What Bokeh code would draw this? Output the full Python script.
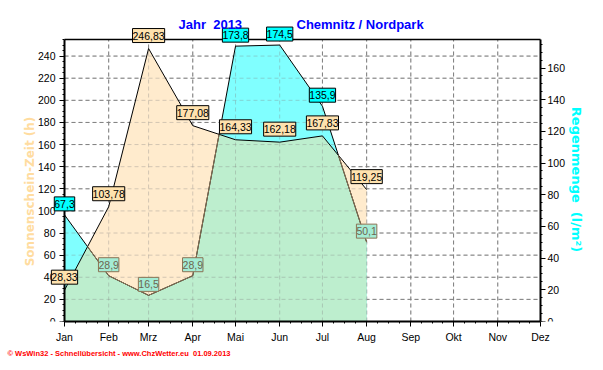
from datetime import date
import numpy as np
from bokeh.plotting import figure
from bokeh.models import Range1d, LinearAxis, FixedTicker, Label, Title
from bokeh.core.properties import value
from bokeh.embed import file_html
from bokeh.resources import INLINE

YEAR = 2013
months = ["Jan", "Feb", "Mrz", "Apr", "Mai", "Jun", "Jul", "Aug", "Sep", "Okt", "Nov", "Dez"]
sun = [28.33, 103.78, 246.83, 177.08, 164.33, 162.18, 167.83, 119.25]      # Sonnenschein-Zeit (h)
rain = [67.3, 28.9, 16.5, 28.9, 173.8, 174.5, 135.9, 50.1]                 # Regenmenge (l/m²)
left_ticks = list(range(0, 241, 20))
right_ticks = list(range(0, 161, 20))
LEFT_MAX = 255
RIGHT_MAX = 178

# x = day of year (first of each month)
month_x = [(date(YEAR, m, 1) - date(YEAR, 1, 1)).days for m in range(1, 13)]
x = month_x[:len(sun)]
x_minor = []
for i in range(len(month_x) - 1):
    for k in range(4):
        x_minor.append(month_x[i] + k * (month_x[i + 1] - month_x[i]) / 4)

BEIGE = "#FFEBCD"
CYAN = "#80FFFF"
MINT = "#BDEECE"
BROWN = "#8B7355"
FONT = "Liberation Sans"

# layout (pixels)
W, H = 600, 368
AX_L, AX_R, AX_T, AX_B = 64, 540, 39, 321       # chart box
FR_L, FR_R, FR_T = 15, 585, 12                   # drawing frame (larger than chart box)
kx = (AX_R - AX_L) / (month_x[-1] - month_x[0])
ky = (AX_B - AX_T) / LEFT_MAX
kr = (AX_B - AX_T) / RIGHT_MAX
x_range = Range1d(month_x[0] - (AX_L - FR_L) / kx, month_x[-1] + (FR_R - AX_R) / kx)
y_range = Range1d(0, (AX_B - FR_T) / ky)

p = figure(width=W, height=H, x_range=x_range, y_range=y_range,
           output_backend="svg", toolbar_location=None,
           min_border_left=FR_L, min_border_right=W - FR_R, min_border_top=FR_T,
           min_border_bottom=H - AX_B)
p.title.visible = False
p.background_fill_color = "white"
p.border_fill_color = "white"
p.outline_line_color = None
p.xgrid.visible = False
p.ygrid.visible = False
p.extra_y_ranges = {"right": Range1d(0, (AX_B - FR_T) / kr)}

def style_axis(ax):
    ax.axis_line_color = "black"
    ax.axis_line_width = 2
    ax.major_tick_in = 0
    ax.major_tick_out = 5
    ax.minor_tick_in = 0
    ax.minor_tick_out = 2
    ax.major_tick_line_color = "black"
    ax.minor_tick_line_color = "black"
    ax.major_label_text_font = FONT
    ax.major_label_text_font_size = "10.5px"
    ax.major_label_text_color = "black"

NB = "\u00a0"
la = p.left[0]
style_axis(la)
la.ticker = FixedTicker(ticks=left_ticks, minor_ticks=list(range(0, LEFT_MAX + 1, 5)))
la.bounds = (0, LEFT_MAX)
la.fixed_location = month_x[0]
la.major_label_overrides = {t: "" for t in left_ticks}
la.major_label_standoff = 0

ra = LinearAxis(y_range_name="right",
                ticker=FixedTicker(ticks=right_ticks, minor_ticks=list(range(0, RIGHT_MAX, 5))))
style_axis(ra)
ra.bounds = (0, RIGHT_MAX)
ra.fixed_location = month_x[-1]
ra.major_label_overrides = {t: "" for t in right_ticks}
ra.major_label_standoff = 0
p.add_layout(ra, "right")

xa = p.below[0]
style_axis(xa)
xa.ticker = FixedTicker(ticks=month_x, minor_ticks=x_minor)
xa.bounds = (month_x[0], month_x[-1])
xa.major_label_overrides = {v: n for v, n in zip(month_x, months)}
xa.major_label_standoff = 4

# grid lines (drawn under the areas, and faintly again over them)
gx = month_x[1:-1]
gy = left_ticks[1:]
def grid(alpha):
    p.segment(x0=gx, y0=0, x1=gx, y1=LEFT_MAX, line_color="#808080", line_dash="4 3",
              line_width=1, line_alpha=alpha)
    p.segment(x0=month_x[0], y0=gy, x1=month_x[-1], y1=gy, line_color="#808080",
              line_dash="4 3", line_width=1, line_alpha=alpha)
grid(1.0)

# areas
p.varea(x=x, y1=0, y2=sun, fill_color=BEIGE)
p.varea(x=x, y1=0, y2=rain, fill_color=CYAN, y_range_name="right")

# overlap (min of both curves, in left-axis units)
scale = LEFT_MAX / RIGHT_MAX
rl = [r * scale for r in rain]
xs, ss, rs = [], [], []
for i in range(len(x)):
    xs.append(x[i]); ss.append(sun[i]); rs.append(rl[i])
    if i < len(x) - 1:
        d0 = sun[i] - rl[i]
        d1 = sun[i + 1] - rl[i + 1]
        if d0 * d1 < 0:
            t = d0 / (d0 - d1)
            xc = x[i] + t * (x[i + 1] - x[i])
            yc = sun[i] + t * (sun[i + 1] - sun[i])
            xs.append(xc); ss.append(yc); rs.append(yc)
xs = np.array(xs); ss = np.array(ss); rs = np.array(rs)
ymin = np.minimum(ss, rs)
p.varea(x=xs, y1=0, y2=ymin, fill_color=MINT)

grid(0.35)

# top border of the chart box
p.segment(x0=month_x[0], y0=LEFT_MAX, x1=month_x[-1], y1=LEFT_MAX, line_color="black", line_width=1.5)

# lines
p.line(x, sun, line_color="black", line_width=1)
p.line(x, rain, line_color="black", line_width=1, y_range_name="right")
brown_y = np.where(rs <= ss + 1e-9, rs, np.nan)
p.line(xs, brown_y, line_color=BROWN, line_width=1)

# y tick labels
p.text(x=[month_x[0]] * len(left_ticks), y=left_ticks, text=[str(t) for t in left_ticks],
       x_offset=-9, text_align="right", text_baseline="middle",
       text_font=value(FONT), text_font_size="10.5px", text_color="black")
p.text(x=[month_x[-1]] * len(right_ticks), y=right_ticks, text=[str(t) for t in right_ticks],
       y_range_name="right", x_offset=7, text_align="left", text_baseline="middle",
       text_font=value(FONT), text_font_size="10.5px", text_color="black")

# axis titles
p.add_layout(Label(x=29 - FR_L, y=AX_B - 191, x_units="screen", y_units="screen",
                   text="Sonnenschein-Zeit (h)", angle=np.pi / 2,
                   text_font="DejaVu Sans", text_font_style="bold", text_font_size="12px",
                   text_color="#FFDCA0", text_align="center", text_baseline="middle"))
p.add_layout(Label(x=576 - FR_L, y=AX_B - 179, x_units="screen", y_units="screen",
                   text="Regenmenge" + NB + " (l/m²)", angle=-np.pi / 2,
                   text_font="DejaVu Sans", text_font_style="bold", text_font_size="13px",
                   text_color="#00FFFF", text_align="center", text_baseline="middle"))

# value labels
def box(xv, yv, text, fill, border, tcolor, yoff, rng="default"):
    p.add_layout(Label(x=xv, y=yv, y_range_name=rng, text=text, text_alpha=0,
                       text_font=FONT, text_font_size="10.5px",
                       text_align="center", text_baseline="middle",
                       x_offset=1, y_offset=yoff - 1, padding=(0, 3),
                       background_fill_color=border))
    p.add_layout(Label(x=xv, y=yv, y_range_name=rng, text=text, text_color=tcolor,
                       text_font=FONT, text_font_size="10.5px",
                       text_align="center", text_baseline="middle",
                       y_offset=yoff, padding=(0, 3),
                       background_fill_color=fill, border_line_color=border,
                       border_line_width=1))

for i in range(len(x)):
    if rl[i] < sun[i]:
        box(x[i], rain[i], f"{rain[i]:.1f}".replace(".", ","), "#A4ECD4", BROWN, "#6E6650", 11, "right")
    else:
        box(x[i], rain[i], f"{rain[i]:.1f}".replace(".", ","), "#00FFFF", "black", "black", 11, "right")
for i in range(len(x)):
    box(x[i], sun[i], f"{sun[i]:.2f}".replace(".", ","), "#FFE2AE", "black", "black", 13)

# titles
p.add_layout(Label(x=178 - FR_L, y=AX_B - 24, x_units="screen", y_units="screen",
                   text="Jahr" + NB + " 2013",
                   text_font=FONT, text_font_style="bold", text_font_size="13px",
                   text_color="#0000FF", text_baseline="middle"))
p.add_layout(Label(x=296 - FR_L, y=AX_B - 24, x_units="screen", y_units="screen",
                   text="Chemnitz / Nordpark",
                   text_font=FONT, text_font_style="bold", text_font_size="13px",
                   text_color="#0000FF", text_baseline="middle"))

# footer
p.add_layout(Title(text="© WsWin32 - Schnellübersicht - www.ChzWetter.eu" + NB + " 01.09.2013",
                   align="left", offset=7 - FR_L, standoff=3,
                   text_font=FONT, text_font_style="bold", text_font_size="7.5px",
                   text_color="#FF0000"), "below")

open("out.html", "w").write(file_html(p, INLINE))
